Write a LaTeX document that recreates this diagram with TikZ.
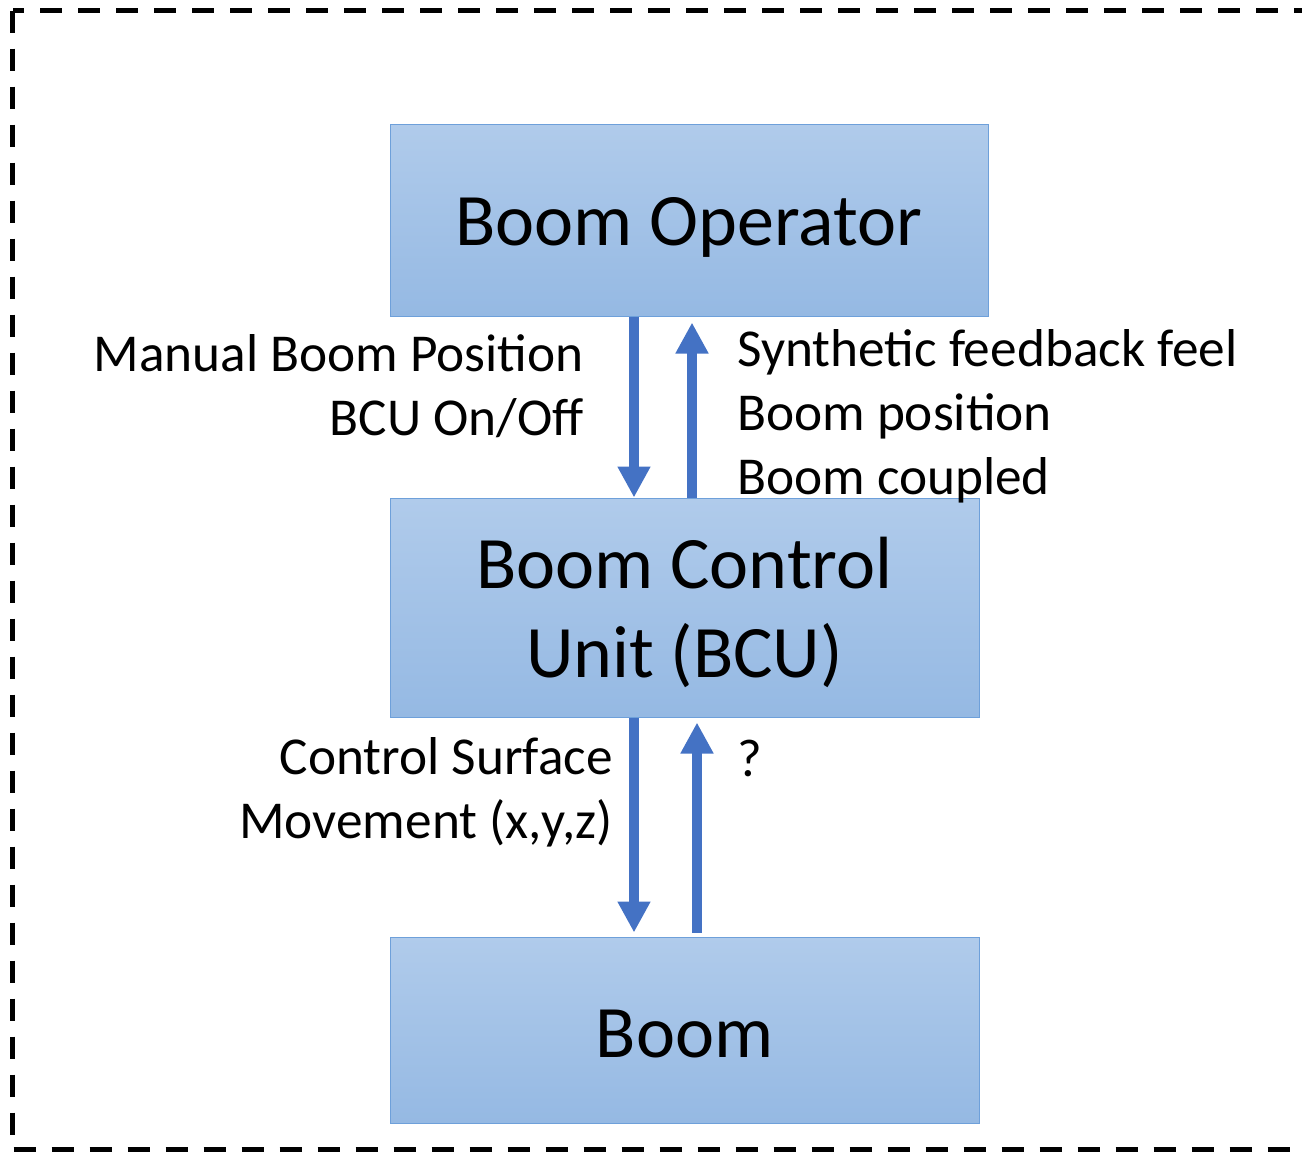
\documentclass[tikz,border=0pt]{standalone}
\usepackage{fontspec}
\setmainfont{Carlito}
\usetikzlibrary{arrows.meta}
\definecolor{boxtop}{RGB}{176,203,235}
\definecolor{boxbot}{RGB}{149,185,227}
\definecolor{boxline}{RGB}{110,160,218}
\definecolor{flow}{RGB}{68,114,196}
\tikzset{
  unit/.style={draw=boxline, line width=1pt, top color=boxtop, bottom color=boxbot,
    inner sep=0pt, font=\fontsize{74}{89}\selectfont, align=center},
  flowarrow/.style={draw=flow, line width=10pt, -{Triangle[width=31pt,length=31pt]}},
  lbl/.style={inner sep=0pt, font=\fontsize{53.3}{64}\selectfont},
  frame/.style={line width=5pt, dash pattern=on 22pt off 16pt}
}
% invisible strut that lowers the first line of a box caption
\newcommand{\capdrop}[1]{\rule{0pt}{#1}}
\begin{document}
\begin{tikzpicture}[x=1pt, y=-1pt]
  \useasboundingbox (0,0) rectangle (1302,1152);
  \begin{scope}
    \clip (0,0) rectangle (1302,1152);
    \draw[frame] (12.5,10.5) rectangle (1330,1149.5);
  \end{scope}

  % units
  \node[unit, minimum width=598pt, minimum height=192pt] (op) at (689,220) {\capdrop{63pt}Boom Operator};
  \node[unit, minimum width=589pt, minimum height=219pt] (bcu) at (684.5,607.5) {\capdrop{62pt}Boom Control\\Unit (BCU)};
  \node[unit, minimum width=589pt, minimum height=186pt] (boom) at (684.5,1030) {\capdrop{55pt}Boom};

  % signal columns
  \coordinate (d1) at (634,0);
  \coordinate (u1) at (692,0);
  \coordinate (d2) at (634,0);
  \coordinate (u2) at (697,0);

  \draw[flowarrow] (op.south -| d1) -- (bcu.north -| d1);
  \draw[flowarrow, shorten >=6pt] (bcu.north -| u1) -- (op.south -| u1);
  \draw[flowarrow, shorten >=4pt] (bcu.south -| d2) -- (boom.north -| d2);
  \draw[flowarrow, shorten <=4pt, shorten >=5pt] (boom.north -| u2) -- (bcu.south -| u2);

  % signal labels
  \node[lbl, align=right, anchor=east] (l1) at (584,386) {Manual Boom Position\\BCU On/Off};
  \node[lbl, align=left, anchor=west] (l2) at (737,416.5) {Synthetic feedback feel\\Boom position\\Boom coupled};
  \node[lbl, align=right, anchor=east] (l3) at (613,792.5) {Control Surface\\Movement (x,y,z)};
  \node[lbl, anchor=west] (l4) at (737,758) {?};
\end{tikzpicture}
\end{document}
